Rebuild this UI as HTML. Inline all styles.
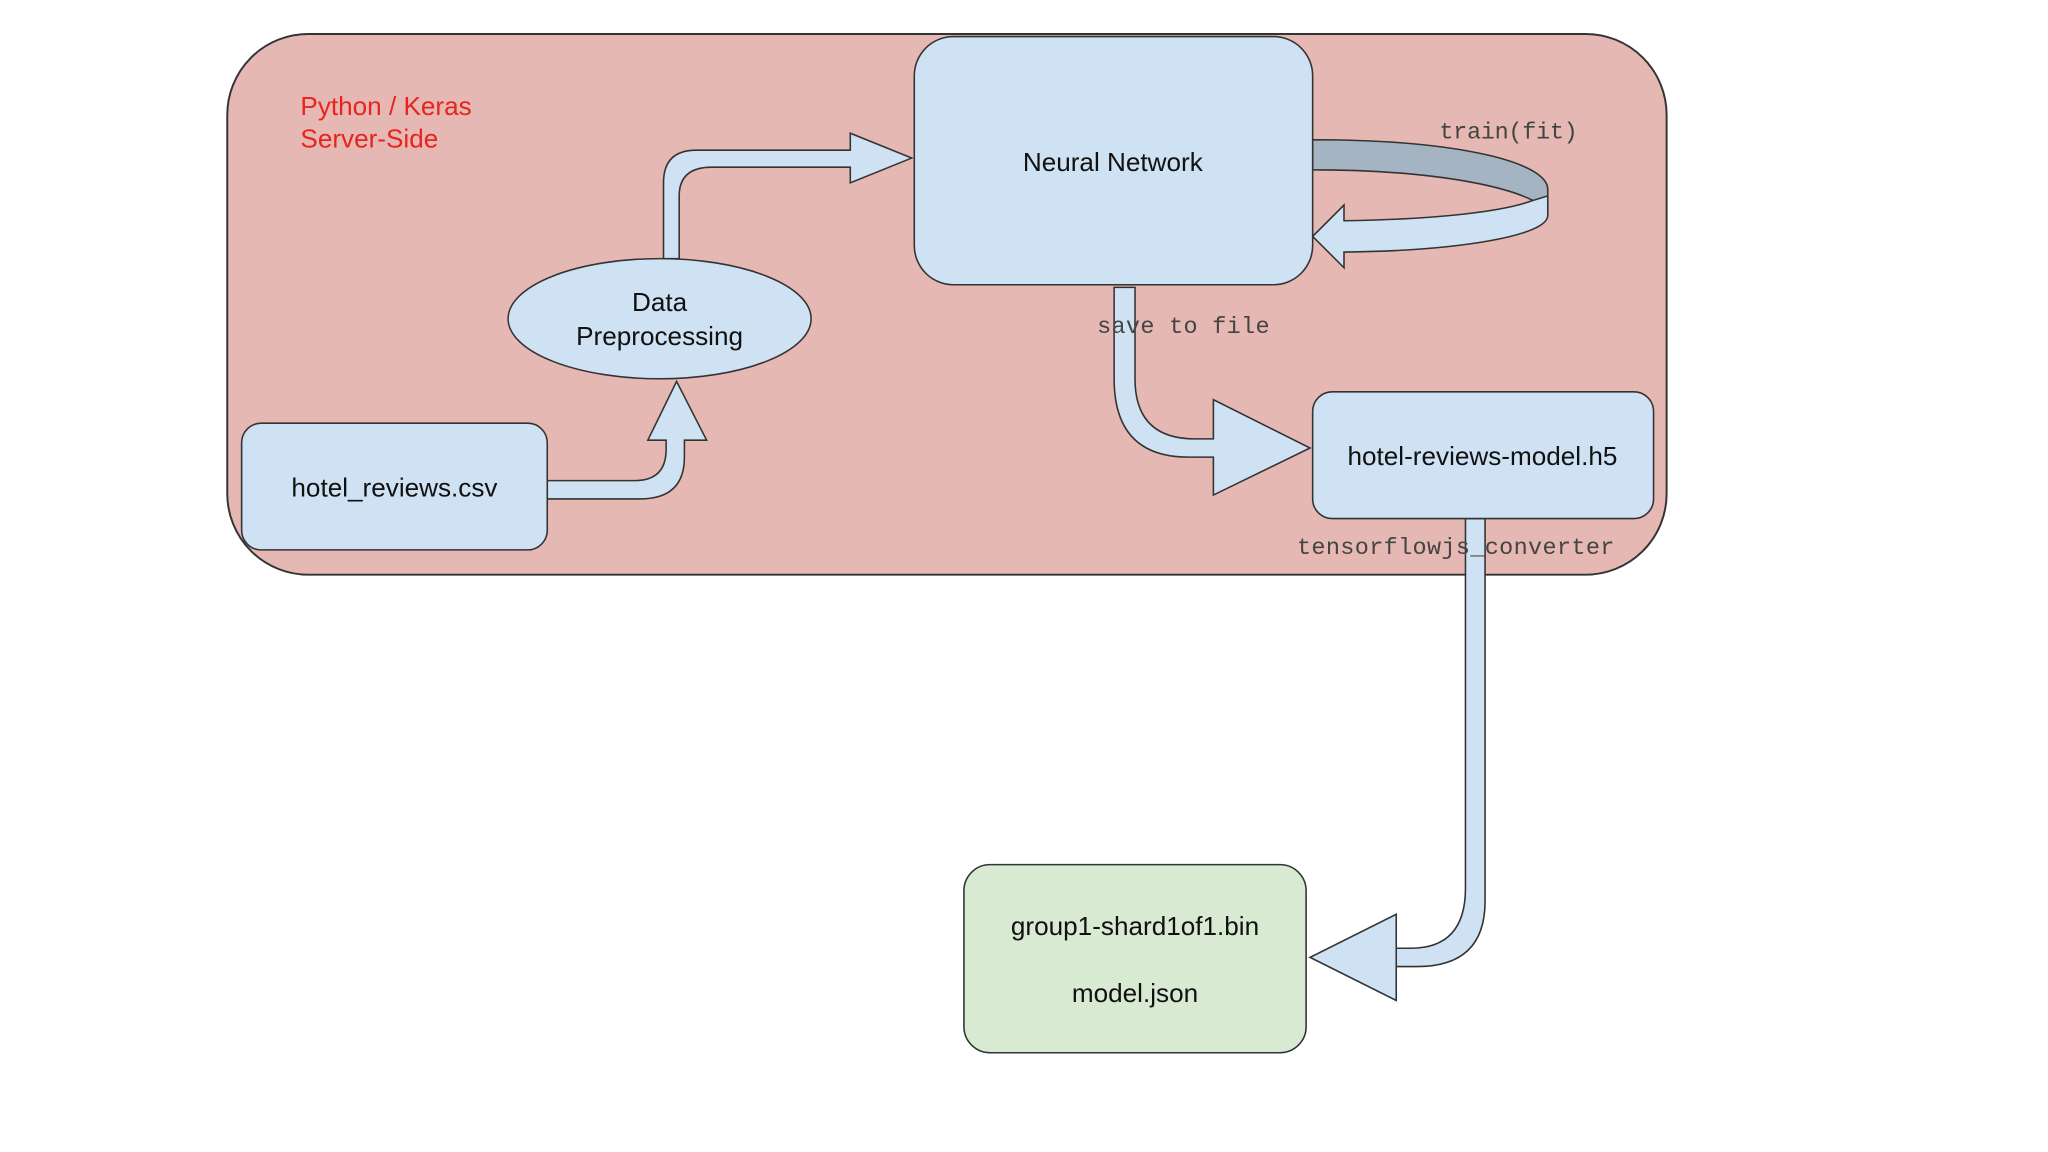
<!DOCTYPE html>
<html><head><meta charset="utf-8"><style>
html,body{margin:0;padding:0;background:#fff;}
svg{display:block;}
.s{font-family:"Liberation Sans",sans-serif;font-size:20px;fill:#111;}
.m{font-family:"Liberation Mono",monospace;font-size:18px;fill:#444;}
</style></head><body>
<svg width="2048" height="1152" viewBox="0 0 1568 882" xmlns="http://www.w3.org/2000/svg">
<rect width="1568" height="882" fill="#fff"/>
<rect x="174" y="26" width="1102" height="414" rx="62" fill="#e6b8b3" stroke="#333" stroke-width="1.5"/>
<text x="230" y="88" font-family="Liberation Sans,sans-serif" font-size="20" fill="#e8241e">Python / Keras</text>
<text x="230" y="113" font-family="Liberation Sans,sans-serif" font-size="20" fill="#e8241e">Server-Side</text>

<!-- loop arrow -->
<path d="M1005,107 C1120,107 1185,125 1185,145 L1185,165 C1185,150 1120,130 1005,130 Z" fill="#a4b4c3" stroke="#333" stroke-width="1.2"/>
<path d="M1185,150 L1185,165 C1185,180 1120,192 1029,193 L1029,205 L1005,181 L1029,157 L1029,169 C1100,168 1150,162 1172,154 Z" fill="#cfe2f3" stroke="#333" stroke-width="1.2"/>

<path d="M419,368 L486,368 Q510,368 510,344 L510,337 L496,337 L518,292 L541,337 L524,337 L524,350 Q524,382 490,382 L419,382 Z" fill="#cfe2f3" stroke="#333" stroke-width="1.2"/>
<path d="M508,198 L508,140 Q508,115 533,115 L651,115 L651,102 L698,121 L651,140 L651,128 L545,128 Q520,128 520,150 L520,198 Z" fill="#cfe2f3" stroke="#333" stroke-width="1.2"/>
<path d="M853,220 L853,290 Q853,350 910,350 L929,350 L929,379 L1003,343 L929,306 L929,336 L915,336 Q869,336 869,290 L869,220 Z" fill="#cfe2f3" stroke="#333" stroke-width="1.2"/>
<path d="M1122,397 L1122,680 Q1122,726 1080,726 L1069,726 L1069,766 L1003,733 L1069,700 L1069,740 L1085,740 Q1137,740 1137,690 L1137,397 Z" fill="#cfe2f3" stroke="#333" stroke-width="1.2"/>

<rect x="700" y="28" width="305" height="190" rx="30" fill="#cfe2f3" stroke="#333" stroke-width="1.2"/>
<text x="852" y="131" class="s" text-anchor="middle">Neural Network</text>

<ellipse cx="505" cy="244" rx="116" ry="46" fill="#cfe2f3" stroke="#333" stroke-width="1.2"/>
<text x="505" y="238" class="s" text-anchor="middle">Data</text>
<text x="505" y="264" class="s" text-anchor="middle">Preprocessing</text>

<rect x="185" y="324" width="234" height="97" rx="15" fill="#cfe2f3" stroke="#333" stroke-width="1.2"/>
<text x="302" y="380" class="s" text-anchor="middle">hotel_reviews.csv</text>

<rect x="1005" y="300" width="261" height="97" rx="15" fill="#cfe2f3" stroke="#333" stroke-width="1.2"/>
<text x="1135" y="356" class="s" text-anchor="middle">hotel-reviews-model.h5</text>

<rect x="738" y="662" width="262" height="144" rx="20" fill="#d9ead3" stroke="#333" stroke-width="1.2"/>
<text x="869" y="716" class="s" text-anchor="middle">group1-shard1of1.bin</text>
<text x="869" y="767" class="s" text-anchor="middle">model.json</text>

<text x="1102" y="106" class="m" textLength="106">train(fit)</text>
<text x="840" y="255" class="m" textLength="132">save to file</text>
<text x="993" y="424" class="m" textLength="243">tensorflowjs_converter</text>
</svg>
</body></html>
